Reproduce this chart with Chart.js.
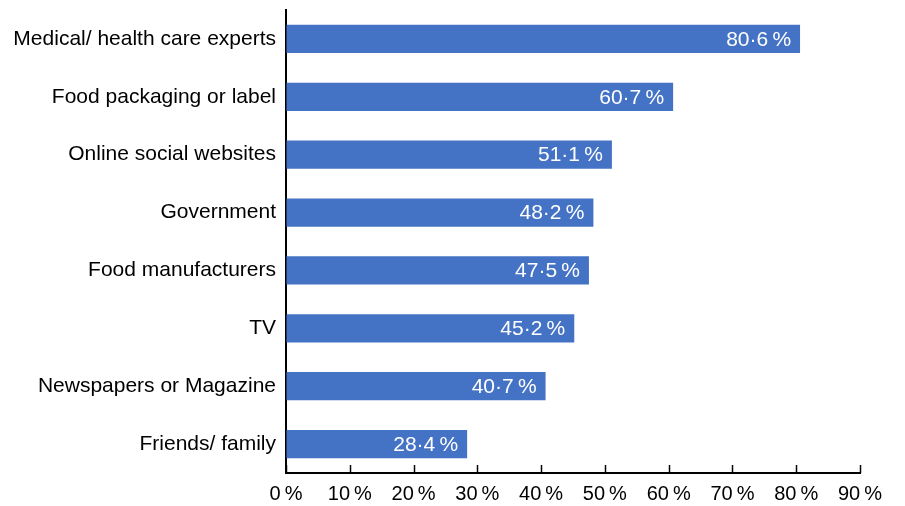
<!DOCTYPE html>
<html>
<head>
<meta charset="utf-8">
<script src="https://cdn.jsdelivr.net/npm/chart.js@4/dist/chart.umd.min.js"></script>
<style>
html,body{margin:0;padding:0;background:#fff;}
#wrap{width:905px;height:506px;}
</style>
</head>
<body>
<div id="wrap"><canvas id="c" width="905" height="506"></canvas></div>
<script>
const categories = ["Medical/ health care experts","Food packaging or label","Online social websites","Government","Food manufacturers","TV","Newspapers or Magazine","Friends/ family"];
const values = [80.6, 60.7, 51.1, 48.2, 47.5, 45.2, 40.7, 28.4];
const xTickValues = [0,10,20,30,40,50,60,70,80,90];

const fmtPct = v => v.toFixed(1).replace('.', '\u00B7') + '\u2009%';

const tickMarks = {
  id: 'tickMarks',
  afterDraw(chart) {
    const ctx = chart.ctx, xs = chart.scales.x, area = chart.chartArea;
    ctx.save();
    ctx.strokeStyle = '#000';
    ctx.lineWidth = 1.5;
    xTickValues.forEach(v => {
      const x = Math.round(xs.getPixelForValue(v)) + 0.5;
      ctx.beginPath();
      ctx.moveTo(x, area.bottom - 8);
      ctx.lineTo(x, area.bottom);
      ctx.stroke();
    });
    ctx.restore();
  }
};

const barLabels = {
  id: 'barLabels',
  afterDatasetsDraw(chart) {
    const ctx = chart.ctx;
    const meta = chart.getDatasetMeta(0);
    ctx.save();
    ctx.fillStyle = '#fff';
    ctx.font = '21px "Liberation Sans", Arial, sans-serif';
    ctx.textAlign = 'right';
    ctx.textBaseline = 'middle';
    meta.data.forEach((bar, i) => {
      ctx.fillText(fmtPct(values[i]), bar.x - 9, bar.y + 1);
    });
    ctx.restore();
  }
};

new Chart(document.getElementById('c'), {
  type: 'bar',
  data: {
    labels: categories,
    datasets: [{
      data: values,
      backgroundColor: '#4472C4',
      borderWidth: 0,
      categoryPercentage: 1,
      barPercentage: 0.49
    }]
  },
  options: {
    indexAxis: 'y',
    responsive: false,
    animation: false,
    devicePixelRatio: 1,
    layout: { padding: { top: 10, right: 45, left: 0, bottom: 0 } },
    plugins: { legend: { display: false }, tooltip: { enabled: false } },
    scales: {
      x: {
        min: 0, max: 90,
        afterBuildTicks(scale) { scale.ticks = xTickValues.map(v => ({ value: v })); },
        afterFit(scale) { scale.height = 33; scale.paddingLeft = 0; },
        grid: { display: true, drawOnChartArea: false, drawTicks: false },
        border: { display: true, color: '#000', width: 2 },
        ticks: {
          padding: 9,
          color: '#000',
          font: { family: '"Liberation Sans", Arial, sans-serif', size: 20 },
          maxRotation: 0,
          autoSkip: false,
          callback: v => v + '\u2009%'
        }
      },
      y: {
        afterFit(scale) { scale.width = 286; scale.paddingTop = 0; scale.paddingBottom = 0; },
        grid: { display: false, drawTicks: false },
        border: { display: true, color: '#000', width: 2 },
        ticks: {
          padding: 10,
          color: '#000',
          font: { family: '"Liberation Sans", Arial, sans-serif', size: 21 },
          autoSkip: false
        }
      }
    }
  },
  plugins: [tickMarks, barLabels]
});
</script>
</body>
</html>
